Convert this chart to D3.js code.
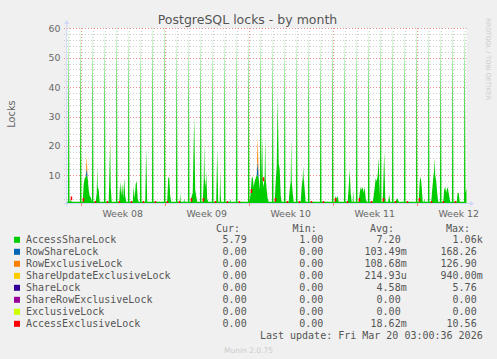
<!DOCTYPE html>
<html><head><meta charset="utf-8">
<script src="https://cdn.jsdelivr.net/npm/d3@7"></script>
<style>body{margin:0;background:#f0f0f0}svg{display:block}</style>
</head><body>
<svg id="c" width="497" height="359"></svg>
<script>
const title = "PostgreSQL locks - by month";
const yLabel = "Locks";
const yTicks = [10, 20, 30, 40, 50, 60];
const weekLabels = ["Week 08", "Week 09", "Week 10", "Week 11", "Week 12"];
const weekStarts = ["2026-02-16T00:00:00", "2026-02-23T00:00:00", "2026-03-02T00:00:00", "2026-03-09T00:00:00", "2026-03-16T00:00:00"];
const rangeStart = "2026-02-14T20:00:00";
const rangeEnd = "2026-03-20T04:00:00";
const lastUpdate = "Last update: Fri Mar 20 03:00:36 2026";
const version = "Munin 2.0.75";

// samples: [hours since rangeStart, value]
const accessShareLock = [
 [0,1],[2.5,1],[4,62],[5.5,1],[8,1.5],[10,1],[26.5,1],[28,62],[29.5,1],
 [32,1],[34,7],[36,9],[38,9.5],[40,10],[42,9],[44,5],[46,3],[48,2.5],[50.5,1],[52,60],[53.5,1],
 [58,1],[60,4],[61,13],[62,6],[64,5],[66,1],[74.5,1],[76,60],[77.5,1],
 [84,1],[86,15],[87,21],[88,6],[90,1],[98.5,1],[100,64],[101.5,1],
 [105,1],[107,8],[109,3],[111,7],[113,2],[115,9],[117,3],[119,1],[122.5,1],[124,61],[125.5,1],
 [132,1],[134,6],[136,2],[138,7],[140,8],[142,2],[144,1],[146.5,1],[148,58],[149.5,1],
 [157,1],[159,19],[161,1],[170.5,1],[172,64],[173.5,1],[194.5,1],[196,66],[197.5,1],
 [201,1],[203,9],[205,9.5],[207,3],[209,1],[218.5,1],[220,59],[221.5,1],
 [226,1],[227,4],[228,1],[234,1],[235,2],[236,1],[242.5,1],[244,59],[245.5,1],
 [248,1],[250,3],[252,4],[255,30],[257,5],[259,3],[261,1],[266.5,1],[268,60],[269.5,1],
 [272,1],[274,8],[275,21],[276,9],[278,6],[279,11.5],[281,2],[283,1],[290.5,1],[292,57],[293.5,1],
 [299,1],[301,19],[303,1],[306,1],[307,12],[308,3],[309,1],[314.5,1],[316,59],[317.5,1],
 [326,1],[327,2],[328,1],[338.5,1],[340,60],[341.5,1],
 [362.5,1],[364,60],[365.5,1],[368,4],[370,9],[372,9.5],[374,6],[376,8],[378,9],[380,10],[382,10],[384,9],[386.5,5],
 [388,60],[389.5,8],[391,23],[392,8],[394,6],[396,10],[397,23],[398,9],[400,5],[402,2],[404,1],
 [410.5,1],[412,59],[413.5,1],[416,1],[418,8],[420,13],[422,37],[424,14],[426,12],[428,3],[430,1],
 [434.5,1],[436,58],[437.5,1],[444,1],[446,5],[448,8],[449,23],[450,8],[452,4],[454,1],
 [458.5,1],[460,59],[461.5,1],[468,1],[470,6],[472,9],[473,13],[474,9],[476,5],[478,1],
 [482.5,1],[484,59],[485.5,1],[506.5,1],[508,58],[509.5,1],[530.5,1],[532,61],[533.5,1],
 [536,1],[538,3],[540,2],[542,3],[544,1],[554.5,1],[556,58],[557.5,1],
 [562,1],[564,6],[566,12],[568,4],[570,1],[572,1],[573,5],[574,1],[578.5,1],[580,59],[581.5,1],
 [584,1],[586,4],[588,6],[590,5],[592,6],[594,4],[596,6],[598,2],[600,1],[602.5,1],[604,61],[605.5,1],
 [612,1],[614,3],[616,6],[618,9],[620,8],[622,10],[624,16],[625,9],[626.5,3],[628,62],[629.5,1],
 [632,1],[633,6],[635,18],[637,3],[638,1],[643,1],[645,3.5],[647,1],[650.5,1],[652,62],[653.5,1],
 [658,1],[660,2],[662,2],[664,1],[674.5,1],[676,60],[677.5,1],[698.5,1],[700,63],[701.5,1],
 [704,1],[706,8],[708,9.5],[710,6],[712,1],[714,1],[715,2],[716,1],[722.5,1],[724,62],[725.5,1],
 [729,1],[731,5],[733,9],[735,12],[736,16],[737,10],[739,8],[741,4],[743,1],[746.5,1],[748,61],[749.5,1],
 [753,1],[755,5],[757,6],[759,4],[761,6],[763,5],[765,3],[767,1],[770.5,1],[772,62],[773.5,1],
 [780,1],[782,4],[784,4],[786,1],[794.5,1],[796,62],[797.5,4],[800,5.79]
];
const rowShareLock = [[0,0],[38,0],[40,2.5],[42,0],[380,0],[382,5],[384,0],[800,0]];
const rowExclusiveLock = [[0,0],[38,0],[40,3.5],[42,0],[86,0],[87,2],[88,0],[380,0],[382,8],[384,0],[800,0]];
const shareUpdateExclusiveLock = [[0,0],[38,0],[40,0.9],[42,0],[800,0]];
const shareLock = [[0,0],[800,0]];
const shareRowExclusiveLock = [[0,0],[800,0]];
const exclusiveLock = [[0,0],[800,0]];
// step samples (value holds until next sample)
const accessExclusiveLock = [
 [0,0],[8,1.3],[11,0],[32,1.3],[35,0],[56,1.3],[59,0],[80,1.3],[83,0],[104,1.3],[107,0],
 [128,1.3],[131,0],[152,1.3],[155,0],[176,1.3],[179,0],[200,1.3],[203,0],[224,1.3],[227,0],
 [248,1.3],[251,0],[272,1.3],[275,0],[296,1.3],[299,0],[320,1.3],[323,0],[344,1.3],[347,0],
 [368,1.3],[371,0],[392,1.3],[395,0],[416,1.3],[419,0],[440,1.3],[443,0],[464,1.3],[467,0],
 [488,1.3],[491,0],[512,1.3],[515,0],[536,1.3],[539,0],[560,1.3],[563,0],[584,1.3],[587,0],
 [608,1.3],[611,0],[632,1.3],[635,0],[656,1.3],[659,0],[680,1.3],[683,0],[704,1.3],[707,0],
 [728,1.3],[731,0],[752,1.3],[755,0],[776,1.3],[779,0],[800,0]
];

const seriesNames = ["AccessShareLock","RowShareLock","RowExclusiveLock","ShareUpdateExclusiveLock","ShareLock","ShareRowExclusiveLock","ExclusiveLock","AccessExclusiveLock"];
const seriesColors = ["#00cc00","#0066b3","#ff8000","#ffcc00","#330099","#990099","#ccff00","#ff0000"];
const seriesData = [accessShareLock,rowShareLock,rowExclusiveLock,shareUpdateExclusiveLock,shareLock,shareRowExclusiveLock,exclusiveLock,accessExclusiveLock];
const curVals = ["5.79","0.00","0.00","0.00","0.00","0.00","0.00","0.00"];
const minVals = ["1.00","0.00","0.00","0.00","0.00","0.00","0.00","0.00"];
const avgVals = ["7.20","103.49m","108.68m","214.93u","4.58m","0.00","0.00","18.62m"];
const maxVals = ["1.06k","168.26","126.90","940.00m","5.76","0.00","0.00","10.56"];

const svg = d3.select("#c");
const t0 = new Date(rangeStart), t1 = new Date(rangeEnd);
const toTime = h => new Date(t0.getTime() + h * 3600e3);
const L = 66.7, R = 466.7, T = 28, B = 203;
const x = d3.scaleTime().domain([t0, t1]).range([L, R]);
const y = d3.scaleLinear().domain([0, 60]).range([204.7, 28.3]);

svg.append("rect").attr("width",497).attr("height",359).attr("fill","#f0f0f0");
svg.append("rect").attr("x",L).attr("y",T).attr("width",R-L).attr("height",B-T).attr("fill","#ffffff");

// grid
const g = svg.append("g");
const minorY = d3.range(2, 60, 2).filter(v => v % 10 !== 0);
g.selectAll(".hm").data(minorY).join("line")
  .attr("x1",64).attr("x2",R).attr("y1",d=>Math.round(y(d))+0.5).attr("y2",d=>Math.round(y(d))+0.5)
  .attr("stroke","#cfcfcf").attr("stroke-dasharray","1,2");
const days = d3.timeDay.range(d3.timeDay.ceil(t0), t1);
const weekT = weekStarts.map(s => new Date(s));
const isWeek = d => weekT.some(w => +w === +d);
g.selectAll(".vm").data(days.filter(d => !isWeek(d))).join("line")
  .attr("x1",d=>Math.round(x(d))+0.5).attr("x2",d=>Math.round(x(d))+0.5).attr("y1",T).attr("y2",B)
  .attr("stroke","#cfcfcf").attr("stroke-dasharray","1,2");
g.selectAll(".hM").data(yTicks).join("line")
  .attr("x1",64).attr("x2",R).attr("y1",d=>Math.round(y(d))+0.5).attr("y2",d=>Math.round(y(d))+0.5)
  .attr("stroke","#f09090").attr("stroke-dasharray","1,2");
g.selectAll(".vM").data(weekT).join("line")
  .attr("x1",d=>Math.round(x(d))+0.5).attr("x2",d=>Math.round(x(d))+0.5).attr("y1",T).attr("y2",206)
  .attr("stroke","#f09090").attr("stroke-dasharray","1,2");

// stacked areas
svg.append("clipPath").attr("id","clip").append("rect").attr("x",L).attr("y",T).attr("width",R-L).attr("height",B-T);
const areaG = svg.append("g").attr("clip-path","url(#clip)");
const maps = seriesData.map(s => new Map(s.map(p => [p[0], p[1]])));
seriesData.forEach((s, i) => {
  const pts = s.map(p => {
    let base = 0;
    for (let j = 0; j < i; j++) base += (maps[j].get(p[0]) || 0);
    return {t: toTime(p[0]), b: base, v: base + p[1]};
  });
  const area = d3.area().x(d => x(d.t)).y0(d => y(d.b)).y1(d => y(d.v))
    .curve(i === 7 ? d3.curveStepAfter : d3.curveLinear);
  areaG.append("path").datum(pts).attr("d", area).attr("fill", seriesColors[i]);
});

// axes
const axisColor = "#cfd6f8";
svg.append("line").attr("x1",64).attr("x2",470).attr("y1",B+0.5).attr("y2",B+0.5).attr("stroke",axisColor);
svg.append("path").attr("d",`M470,${B-2} L474,${B+0.5} L470,${B+3} Z`).attr("fill",axisColor);
svg.append("line").attr("x1",L).attr("x2",L).attr("y1",206).attr("y2",24).attr("stroke",axisColor);
svg.append("path").attr("d",`M${L-2.5},24 L${L},20 L${L+2.5},24 Z`).attr("fill",axisColor);
svg.selectAll(".wt").data(weekT).join("line")
  .attr("x1",d=>Math.round(x(d))+0.5).attr("x2",d=>Math.round(x(d))+0.5).attr("y1",B).attr("y2",206)
  .attr("stroke","#ff8080");

// text
const font = "DejaVu Sans", mono = "DejaVu Sans Mono";
svg.append("text").attr("x",247.5).attr("y",23.5).attr("text-anchor","middle")
  .attr("font-family",font).attr("font-size",12.5).attr("fill","#555").text(title);
svg.selectAll(".yl").data(yTicks).join("text")
  .attr("x",60.5).attr("y",d=>y(d)+3.5).attr("text-anchor","end")
  .attr("font-family",font).attr("font-size",9.4).attr("fill","#666").text(d=>d);
svg.selectAll(".xl").data(weekLabels).join("text")
  .attr("x",(d,i)=>x(d3.timeHour.offset(weekT[i], 84))).attr("y",216.7).attr("text-anchor","middle")
  .attr("font-family",font).attr("font-size",9.4).attr("fill","#666").text(d=>d);
svg.append("text").attr("transform","translate(15,114) rotate(-90)").attr("text-anchor","middle")
  .attr("font-family",font).attr("font-size",9.8).attr("fill","#666").text(yLabel);
svg.append("text").attr("transform","translate(485.5,18) rotate(90)")
  .attr("font-family",font).attr("font-size",6.4).attr("fill","#cccccc").text("RRDTOOL / TOBI OETIKER");

// legend
const cw = 6.02;
const colEnds = [252.7, 329.3, 406.7, 482.7];
const heads = ["Cur:","Min:","Avg:","Max:"];
const cols = [curVals, minVals, avgVals, maxVals];
heads.forEach((h, c) => svg.append("text").attr("x",colEnds[c]-12.6).attr("y",231.5).attr("text-anchor","end")
  .attr("font-family",mono).attr("font-size",10).attr("fill","#555").text(h));
seriesNames.forEach((n, i) => {
  const by = 243.3 + 12 * i;
  svg.append("rect").attr("x",14).attr("y",by-6.5).attr("width",6).attr("height",6).attr("fill",seriesColors[i]);
  svg.append("text").attr("x",26).attr("y",by).attr("font-family",mono).attr("font-size",10).attr("fill","#555").text(n);
  cols.forEach((arr, c) => {
    const s = arr[i];
    const hasSuf = /[a-zA-Z]$/.test(s);
    svg.append("text").attr("x",colEnds[c] - (hasSuf ? 0 : cw)).attr("y",by).attr("text-anchor","end")
      .attr("font-family",mono).attr("font-size",10).attr("fill","#555").text(s);
  });
});
svg.append("text").attr("x",482.7).attr("y",338.5).attr("text-anchor","end")
  .attr("font-family",mono).attr("font-size",10).attr("fill","#555").text(lastUpdate);
svg.append("text").attr("x",248.5).attr("y",353).attr("text-anchor","middle")
  .attr("font-family",font).attr("font-size",7.5).attr("fill","#cccccc").text(version);
</script>
</body></html>
